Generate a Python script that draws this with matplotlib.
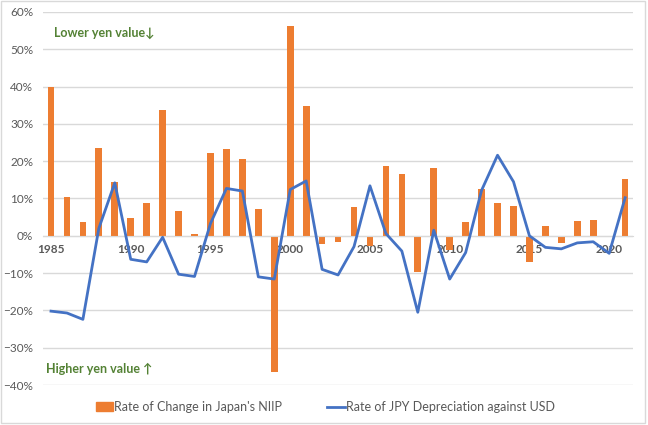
import numpy as np
import matplotlib
matplotlib.use("Agg")
import matplotlib.pyplot as plt
from matplotlib.patches import Rectangle
from matplotlib.lines import Line2D
from matplotlib.ticker import PercentFormatter

# ---- data (percent) ----
years = list(range(1985, 2022))

niip_change = [
    40.0, 10.4, 3.7, 23.6, 14.5, 4.9, 8.8, 33.7, 6.7, 0.5,
    22.1, 23.2, 20.5, 7.1, -36.5, 56.2, 34.8, -2.2, -1.6, 7.6,
    -2.8, 18.7, 16.5, -9.6, 18.3, -3.8, 3.6, 12.5, 8.9, 8.0,
    -7.1, 2.6, -1.9, 3.9, 4.2, 0.0, 15.2,
]

jpy_depr = [
    -20.2, -20.7, -22.4, 2.0, 14.2, -6.3, -7.0, -0.4, -10.3, -10.9,
    3.3, 12.7, 12.0, -11.0, -11.6, 12.4, 14.7, -9.0, -10.5, -2.9,
    13.4, 0.6, -4.1, -20.5, 1.5, -11.6, -4.5, 12.2, 21.6, 14.5,
    0.0, -3.1, -3.5, -1.9, -1.6, -4.7, 10.2,
]

bar_label = "Rate of Change in Japan's NIIP"
line_label = "Rate of JPY Depreciation against USD"

ORANGE = "#ED7D31"
BLUE = "#4472C4"
GREEN = "#548235"
GRAY = "#595959"
GRID = "#D9D9D9"

plt.rcParams["font.family"] = ["Lato", "DejaVu Sans"]

fig = plt.figure(figsize=(6.48, 4.25), dpi=100)
fig.patches.append(Rectangle((0.002, 0.004), 0.994, 0.993, transform=fig.transFigure,
                             fill=False, edgecolor=GRID, linewidth=1.0))

ax = fig.add_axes([0.0664, 0.0941, 0.9106, 0.8777])

x = np.arange(len(years))
ax.bar(x, niip_change, width=0.42, color=ORANGE, zorder=2)
ax.plot(x, jpy_depr, color=BLUE, linewidth=2.0, zorder=3)

ax.set_xlim(-0.5, len(years) - 0.5)
ax.set_ylim(-40, 60)
ax.set_yticks(np.arange(-40, 61, 10))
ax.yaxis.set_major_formatter(PercentFormatter(decimals=0))
ax.grid(axis="y", color=GRID, linewidth=1.0, zorder=0)
ax.set_axisbelow(True)

for s in ["top", "right", "left"]:
    ax.spines[s].set_visible(False)
ax.spines["bottom"].set_position(("data", 0))
ax.spines["bottom"].set_color(GRID)

tick_idx = [i for i, y in enumerate(years) if y % 5 == 0]
ax.set_xticks(tick_idx)
ax.set_xticklabels([str(years[i]) for i in tick_idx], fontweight="bold")
ax.tick_params(axis="x", length=0, pad=6, labelsize=8.5, labelcolor=GRAY)
ax.tick_params(axis="y", length=0, pad=7, labelsize=8.5, labelcolor=GRAY)

ax.text(0.019, 0.944, "Lower yen value\u2193", transform=ax.transAxes, color=GREEN,
        fontsize=9, fontweight="bold", va="center", ha="left",
        family=["Lato", "DejaVu Sans"])
ax.text(0.005, 0.043, "Higher yen value \u2191", transform=ax.transAxes, color=GREEN,
        fontsize=9, fontweight="bold", va="center", ha="left",
        family=["Lato", "DejaVu Sans"])

handles = [
    Rectangle((0, 0), 1, 1, color=ORANGE),
    Line2D([0], [0], color=BLUE, linewidth=2.0),
]
fig.legend(handles, [bar_label, line_label], loc="center", bbox_to_anchor=(0.502, 0.042),
           ncol=2, frameon=False, fontsize=9, labelcolor=GRAY, handlelength=1.4,
           handletextpad=0.1, columnspacing=3.6)

fig.savefig("out.png", dpi=100)
